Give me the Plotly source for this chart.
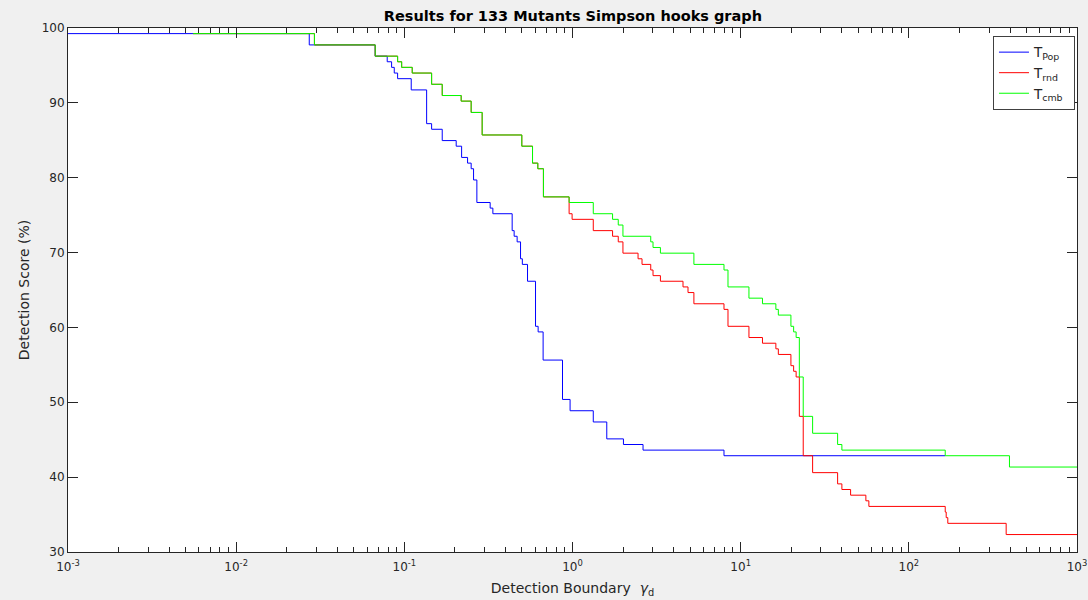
import plotly.graph_objects as go

# Detection boundary thresholds (x) and detection scores (%) for each technique
pop_x = [0.001, 0.0272, 0.0671, 0.0791, 0.0840, 0.0871, 0.0912, 0.1099, 0.1357, 0.1453,
         0.1680, 0.2034, 0.2191, 0.2377, 0.2497, 0.2580, 0.2700, 0.3239, 0.3361, 0.4377,
         0.4498, 0.4686, 0.4909, 0.5031, 0.5402, 0.6027, 0.6246, 0.6688, 0.8722, 0.9676,
         1.329, 1.599, 2.009, 2.627, 7.959, 164.6]
pop_y = [99.25, 97.74, 96.24, 95.49, 94.74, 93.98, 93.23, 91.73, 87.22, 86.47,
         84.96, 84.21, 82.71, 81.95, 81.20, 79.70, 76.69, 75.94, 75.19, 72.93,
         72.18, 71.43, 69.17, 68.42, 66.17, 60.15, 59.40, 55.64, 50.38, 48.87,
         47.37, 45.11, 44.36, 43.61, 42.86, 42.86]

rnd_x = [0.00554, 0.0292, 0.0671, 0.0912, 0.0964, 0.1114, 0.1453, 0.1680, 0.2178, 0.2497,
         0.2903, 0.4996, 0.5785, 0.6220, 0.6716, 0.9546, 0.9945, 1.329, 1.731, 1.871,
         1.995, 2.454, 2.591, 2.919, 3.012, 3.333, 4.541, 4.863, 5.271, 7.959,
         8.406, 11.20, 13.48, 16.19, 16.75, 19.90, 20.65, 21.37, 22.33, 23.55,
         26.78, 37.71, 39.99, 45.05, 55.53, 57.85, 164.6, 166.8, 170.5, 379.1, 1000]
rnd_y = [99.25, 97.74, 96.24, 95.49, 94.74, 93.98, 92.48, 90.98, 90.23, 88.72,
         85.71, 84.21, 81.95, 81.20, 77.44, 75.19, 74.44, 72.93, 72.18, 71.43,
         69.92, 69.17, 68.42, 67.67, 66.92, 66.17, 65.41, 64.66, 63.16, 62.41,
         60.15, 58.65, 57.89, 57.14, 56.39, 54.89, 54.14, 53.38, 48.12, 42.86,
         40.60, 39.10, 38.35, 37.59, 36.84, 36.09, 35.34, 34.59, 33.83, 32.33, 32.33]

cmb_x = [0.00554, 0.0292, 0.0671, 0.0912, 0.0964, 0.1114, 0.1453, 0.1680, 0.2178, 0.2497,
         0.2903, 0.4996, 0.5785, 0.6220, 0.6716, 0.9546, 1.329, 1.731, 1.871, 1.995,
         2.919, 3.012, 3.333, 5.271, 7.959, 8.406, 11.20, 13.48, 16.19, 16.75,
         19.90, 20.65, 21.37, 22.33, 23.55, 26.78, 37.71, 39.99, 164.6, 396.6, 1000]
cmb_y = [99.25, 97.74, 96.24, 95.49, 94.74, 93.98, 92.48, 90.98, 90.23, 88.72,
         85.71, 84.21, 81.95, 81.20, 77.44, 76.69, 75.19, 74.44, 73.68, 72.18,
         71.43, 70.68, 69.92, 68.42, 67.67, 65.41, 63.91, 63.16, 62.41, 61.65,
         60.15, 59.40, 58.65, 53.38, 48.12, 45.86, 44.36, 43.61, 42.86, 41.35, 41.35]

x_tickvals = [1e-3, 1e-2, 1e-1, 1e0, 1e1, 1e2, 1e3]
x_ticktext = ["10<sup>-3</sup>", "10<sup>-2</sup>", "10<sup>-1</sup>", "10<sup>0</sup>",
              "10<sup>1</sup>", "10<sup>2</sup>", "10<sup>3</sup>"]
y_tickvals = [30, 40, 50, 60, 70, 80, 90, 100]

FONT = "DejaVu Sans"
AX = "#262626"

fig = go.Figure()
fig.add_trace(go.Scatter(x=pop_x, y=pop_y, mode="lines", line=dict(color="#0000ff", width=1, shape="hv"),
                         name="T<sub>Pop</sub>&nbsp;&nbsp;"))
fig.add_trace(go.Scatter(x=rnd_x, y=rnd_y, mode="lines", line=dict(color="#ff0000", width=1, shape="hv"),
                         name="T<sub>rnd</sub>"))
fig.add_trace(go.Scatter(x=cmb_x, y=cmb_y, mode="lines", line=dict(color="#00ff00", width=1, shape="hv"),
                         name="T<sub>cmb</sub>"))

fig.update_layout(
    width=1088, height=600,
    margin=dict(l=68, r=11, t=28, b=48),
    paper_bgcolor="#f0f0f0", plot_bgcolor="#ffffff",
    font=dict(family=FONT, size=12, color=AX),
    title=dict(text="<b>Results for 133 Mutants Simpson hooks graph</b>", x=0.5266, xanchor="center",
               y=0.973, yanchor="middle", font=dict(family=FONT, size=14.5, color="#000000")),
    showlegend=True,
    legend=dict(x=0.998, xanchor="right", y=0.985, yanchor="top", bgcolor="#ffffff",
                bordercolor="#404040", borderwidth=1, font=dict(family=FONT, size=13.5, color=AX),
                tracegroupgap=0),
    xaxis=dict(type="log", range=[-3, 3], tickmode="array", tickvals=x_tickvals, ticktext=x_ticktext,
               ticks="inside", ticklen=10, tickcolor=AX, showline=True, linecolor=AX, linewidth=1,
               mirror="allticks", showgrid=False, zeroline=False, automargin=False,
               ticklabelstandoff=4,
               minor=dict(ticks="inside", ticklen=5, tickcolor=AX, dtick="D1", showgrid=False),
               title=dict(text="Detection Boundary  <i>γ</i><sub>d</sub>", font=dict(family=FONT, size=14, color=AX),
                          standoff=9)),
    yaxis=dict(range=[30, 100], tickmode="array", tickvals=y_tickvals, ticks="inside", ticklen=10,
               tickcolor=AX, showline=True, linecolor=AX, linewidth=1, mirror="allticks",
               showgrid=False, zeroline=False, automargin=False,
               title=dict(text="Detection Score (%)", font=dict(family=FONT, size=14, color=AX), standoff=8)),
)

fig.write_html("out.html")
